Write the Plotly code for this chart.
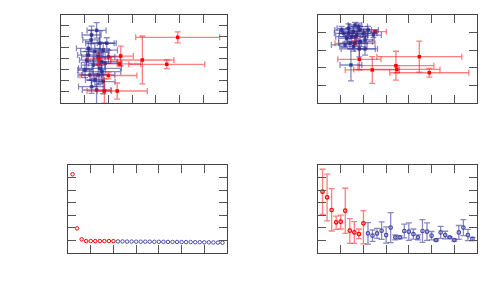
import plotly.graph_objects as go

# ---------- top-left panel ----------
tl_red_x = [4.92, 3.43, 4.46, 2.52, 2.46, 2.37, 1.83, 1.60, 2.00]
tl_red_y = [5.97, 3.91, 3.52, 4.27, 3.55, 1.09, 1.09, 4.00, 2.50]
tl_red_ex = [1.77, 1.33, 1.60, 0.53, 0.90, 1.27, 0.30, 0.50, 1.20]
tl_red_ey = [0.50, 2.18, 0.40, 0.90, 0.20, 0.73, 1.10, 0.50, 0.30]

tl_blue_x = [1.29, 1.15, 1.64, 1.57, 1.36, 1.72, 1.43, 1.50, 1.08, 1.86, 1.22, 1.78,
             1.27, 2.00, 1.50, 1.64, 1.43, 1.15, 1.78, 1.29, 1.57, 1.93, 1.01, 1.72]
tl_blue_y = [6.18, 4.97, 5.43, 4.21, 3.45, 2.85, 2.09, 1.18, 3.90, 3.60, 2.55, 4.80,
             5.73, 4.20, 6.60, 3.15, 4.67, 4.36, 1.94, 1.48, 2.55, 5.43, 3.00, 3.75]
tl_blue_ex = [0.40, 0.50, 0.60, 0.70, 0.50, 0.80, 0.40, 0.60, 0.30, 0.70, 0.50, 0.60,
              0.35, 0.50, 0.40, 0.90, 0.60, 0.45, 0.50, 0.55, 0.70, 0.40, 0.30, 0.65]
tl_blue_ey = [0.80, 0.60, 1.10, 0.70, 1.20, 0.90, 0.60, 1.30, 0.80, 1.00, 0.50, 0.70,
              0.90, 0.60, 0.70, 1.40, 0.80, 0.50, 1.10, 0.60, 0.90, 0.50, 0.70, 1.20]

# ---------- top-right panel ----------
tr_red_x = [4.46, 3.43, 3.47, 2.39, 4.90, 2.51, 1.82, 1.63, 1.67]
tr_red_y = [2.63, 2.12, 1.91, 1.88, 1.72, 4.05, 2.48, 3.39, 3.77]
tr_red_ex = [1.87, 1.67, 1.90, 1.19, 1.74, 0.50, 0.95, 0.88, 0.40]
tr_red_ey = [0.88, 0.82, 0.20, 0.76, 0.25, 0.10, 0.59, 0.15, 0.30]

tr_blue_x = [1.12, 1.34, 1.56, 1.78, 1.26, 1.48, 1.70, 2.00, 2.21, 1.41, 1.19,
             1.85, 2.07, 1.63, 1.82, 2.07, 1.45, 1.04, 2.44, 1.56, 1.85, 1.34]
tr_blue_y = [3.96, 4.24, 4.05, 4.34, 3.67, 3.77, 3.86, 3.96, 4.15, 3.39, 3.30,
             3.48, 3.58, 4.43, 3.07, 3.07, 2.16, 4.15, 3.86, 3.20, 4.15, 3.96]
tr_blue_ex = [0.40, 0.50, 0.60, 0.40, 0.35, 0.70, 0.50, 0.60, 0.45, 0.50, 0.60,
              0.55, 0.40, 0.30, 0.80, 0.45, 0.48, 0.30, 0.35, 0.60, 0.50, 0.40]
tr_blue_ey = [0.20, 0.25, 0.30, 0.20, 0.15, 0.35, 0.20, 0.25, 0.20, 0.30, 0.15,
              0.40, 0.20, 0.15, 0.45, 0.35, 0.90, 0.20, 0.15, 0.25, 0.20, 0.30]

# ---------- bottom-left panel ----------
bl_red_x = list(range(1, 11))
bl_red_y = [6.26, 1.96, 1.09, 0.95, 0.95, 0.95, 0.95, 0.95, 0.95, 0.95]
bl_blue_x = list(range(11, 35))
bl_blue_y = [0.92, 0.92, 0.91, 0.91, 0.90, 0.90, 0.90, 0.90, 0.89, 0.89, 0.89, 0.88,
             0.88, 0.88, 0.87, 0.87, 0.87, 0.86, 0.86, 0.85, 0.85, 0.84, 0.83, 0.82]

# ---------- bottom-right panel ----------
br_red_x = list(range(1, 11))
br_red_y = [4.88, 4.43, 3.42, 2.44, 2.49, 3.37, 1.78, 1.64, 1.51, 2.36]
br_red_ep = [1.78, 1.85, 1.70, 0.50, 0.53, 1.78, 0.95, 0.85, 0.40, 1.01]
br_red_em = [1.80, 1.88, 1.67, 0.56, 0.58, 1.81, 1.01, 0.87, 0.37, 1.64]
br_blue_x = list(range(11, 35))
br_blue_y = [1.56, 1.38, 1.56, 1.78, 1.43, 2.02, 1.25, 1.25, 1.75, 1.70, 1.51, 1.25,
             1.75, 1.70, 1.38, 1.03, 1.64, 1.43, 1.25, 1.03, 1.64, 2.02, 1.43, 1.12]
br_blue_e = [0.85, 0.45, 0.40, 0.70, 0.65, 1.20, 0.20, 0.12, 0.55, 0.70, 0.40, 0.20,
             0.90, 0.70, 0.33, 0.07, 0.48, 0.30, 0.06, 0.08, 0.55, 0.64, 0.45, 0.13]

RED = "rgba(255,0,0,1)"
RED_BAR = "rgba(255,0,0,0.5)"
BLUE = "rgba(40,40,140,0.8)"
BLUE_BAR = "rgba(40,40,150,0.55)"

fig = go.Figure()


def err(arr, color):
    return dict(type="data", array=arr, visible=True, color=color, thickness=1.3, width=3)


# top-left
fig.add_trace(go.Scatter(x=tl_blue_x, y=tl_blue_y, mode="markers", xaxis="x", yaxis="y",
                         marker=dict(color=BLUE, size=3.5, symbol="square"),
                         error_x=err(tl_blue_ex, BLUE_BAR), error_y=err(tl_blue_ey, BLUE_BAR)))
fig.add_trace(go.Scatter(x=tl_red_x, y=tl_red_y, mode="markers", xaxis="x", yaxis="y",
                         marker=dict(color=RED, size=3.5, symbol="square"),
                         error_x=err(tl_red_ex, RED_BAR), error_y=err(tl_red_ey, RED_BAR)))
# top-right
fig.add_trace(go.Scatter(x=tr_red_x, y=tr_red_y, mode="markers", xaxis="x2", yaxis="y2",
                         marker=dict(color=RED, size=3.5, symbol="square"),
                         error_x=err(tr_red_ex, RED_BAR), error_y=err(tr_red_ey, RED_BAR)))
fig.add_trace(go.Scatter(x=tr_blue_x, y=tr_blue_y, mode="markers", xaxis="x2", yaxis="y2",
                         marker=dict(color=BLUE, size=3.5, symbol="square"),
                         error_x=err(tr_blue_ex, BLUE_BAR), error_y=err(tr_blue_ey, BLUE_BAR)))
# bottom-left
fig.add_trace(go.Scatter(x=bl_red_x, y=bl_red_y, mode="markers", xaxis="x3", yaxis="y3",
                         marker=dict(color=RED, size=3.5, symbol="circle-open", line=dict(width=1))))
fig.add_trace(go.Scatter(x=bl_blue_x, y=bl_blue_y, mode="markers", xaxis="x3", yaxis="y3",
                         marker=dict(color="rgba(60,60,160,0.9)", size=3.5, symbol="circle-open",
                                     line=dict(width=1))))
# bottom-right
fig.add_trace(go.Scatter(x=br_red_x, y=br_red_y, mode="markers", xaxis="x4", yaxis="y4",
                         marker=dict(color=RED, size=3.5, symbol="circle-open", line=dict(width=1.2)),
                         error_y=dict(type="data", array=br_red_ep, arrayminus=br_red_em,
                                      visible=True, color=RED_BAR, thickness=1.3, width=3)))
fig.add_trace(go.Scatter(x=br_blue_x, y=br_blue_y, mode="markers", xaxis="x4", yaxis="y4",
                         marker=dict(color="rgba(60,60,160,0.9)", size=3.5, symbol="circle-open",
                                     line=dict(width=1.2)),
                         error_y=err(br_blue_e, BLUE_BAR)))


def ax(domain, rng, dtick, anchor):
    return dict(domain=domain, range=rng, dtick=dtick, anchor=anchor, showline=True,
                mirror="ticks", linecolor="#444", linewidth=1, ticks="inside",
                ticklen=8, tickcolor="#555", tickwidth=1, showticklabels=False,
                showgrid=False, zeroline=False, tick0=0)


# page body has an 8px margin, so the figure is 484x284 starting at (8, 8)
fig.update_layout(
    width=484, height=284, margin=dict(l=0, r=0, t=0, b=0),
    paper_bgcolor="white", plot_bgcolor="white", showlegend=False,
    xaxis=ax([0.1095, 0.4525], [0, 7], 1, "y"),
    yaxis=ax([0.6655, 0.9754], [0, 8], 1, "x"),
    xaxis2=ax([0.6405, 0.969], [0, 7], 1, "y2"),
    yaxis2=ax([0.6655, 0.9754], [0, 5], 1, "x2"),
    xaxis3=ax([0.124, 0.4525], [0, 35], 5, "y3"),
    yaxis3=ax([0.1373, 0.4472], [0, 7], 1, "x3"),
    xaxis4=ax([0.6405, 0.969], [0, 35], 5, "y4"),
    yaxis4=ax([0.1373, 0.4472], [0, 7], 1, "x4"),
)

fig.write_html("out.html")
